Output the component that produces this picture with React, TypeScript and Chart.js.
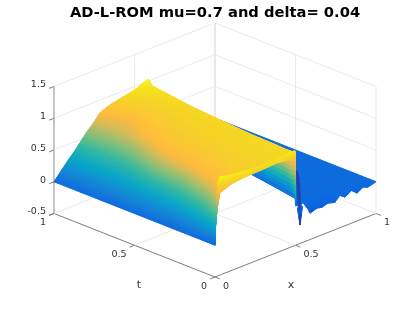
import React, { useEffect, useRef } from "react";
import { Chart, registerables } from "chart.js";

Chart.register(...registerables);

const titleText = "AD-L-ROM mu=0.7 and delta= 0.04";
const xTicks = [0, 0.5, 1];
const tTicks = [0, 0.5, 1];
const zTicks = [-0.5, 0, 0.5, 1, 1.5];

// main sheet: one row of nodes per time value
const mainT = [1, 0.97, 0.85, 0.7, 0.5, 0.3, 0.15, 0.08, 0.03, 0.015, 0.004, 0];
const mainX = [
  [0, 0.07, 0.14, 0.2, 0.245, 0.286, 0.35, 0.5, 0.584, 0.72],
  [0, 0.07, 0.14, 0.2, 0.245, 0.286, 0.35, 0.5, 0.58, 0.72],
  [0, 0.06, 0.12, 0.2, 0.25, 0.34, 0.4, 0.47, 0.571, 0.71],
  [0, 0.05, 0.1, 0.16, 0.21, 0.26, 0.36, 0.45, 0.558, 0.7],
  [0, 0.04, 0.08, 0.125, 0.155, 0.19, 0.3, 0.42, 0.54, 0.678],
  [0, 0.03, 0.06, 0.1, 0.13, 0.16, 0.28, 0.4, 0.525, 0.65],
  [0, 0.02, 0.05, 0.08, 0.1, 0.125, 0.25, 0.38, 0.52, 0.625],
  [0, 0.015, 0.03, 0.05, 0.07, 0.1, 0.2, 0.35, 0.515, 0.58],
  [0, 0.012, 0.03, 0.05, 0.07, 0.12, 0.25, 0.38, 0.512, 0.53],
  [0, 0.006, 0.026, 0.034, 0.046, 0.08, 0.23, 0.37, 0.51, 0.515],
  [0, 0.003, 0.016, 0.03, 0.093, 0.174, 0.26, 0.385, 0.503, 0.504],
  [0, 0.002, 0.012, 0.03, 0.093, 0.174, 0.26, 0.385, 0.5, 0.5],
];
const mainZ = [
  [0, 0.2, 0.39, 0.57, 0.68, 0.8, 0.865, 0.945, 1.03, 0],
  [0, 0.2, 0.39, 0.57, 0.68, 0.8, 0.865, 0.94, 0.96, 0],
  [0, 0.16, 0.33, 0.55, 0.68, 0.8, 0.86, 0.9, 0.94, 0],
  [0, 0.14, 0.29, 0.46, 0.62, 0.8, 0.86, 0.9, 0.92, 0],
  [0, 0.14, 0.3, 0.5, 0.64, 0.8, 0.87, 0.9, 0.92, 0],
  [0, 0.12, 0.28, 0.46, 0.62, 0.8, 0.87, 0.91, 0.92, 0],
  [0, 0.15, 0.36, 0.55, 0.68, 0.8, 0.88, 0.91, 0.92, 0],
  [0, 0.2, 0.36, 0.5, 0.66, 0.8, 0.88, 0.91, 0.92, 0.07],
  [0, 0.2, 0.5, 0.75, 0.88, 0.88, 0.89, 0.91, 0.93, 0.17],
  [0, 0.2, 0.56, 0.93, 1.015, 0.98, 0.94, 0.94, 0.96, 0.2],
  [0, 0.25, 0.6, 0.9, 0.97, 0.97, 0.95, 0.95, 0.95, 0.24],
  [0, 0.24, 0.54, 0.79, 0.856, 0.886, 0.894, 0.91, 0.874, 0.24],
];

// flat part ahead of the front
const planeT = [1, 0.458, 0.12, 0.06];
const planeX = [
  [0.72, 1],
  [0.675, 1],
  [0.618, 1],
  [0.56, 1],
];
const planeZ = [
  [0, 0],
  [0, 0],
  [0, 0],
  [0, 0],
];

// ripples along the first time step
const rippleT = [0.06, 0.02, 0];
const rippleX = [
  [0.607, 0.634, 0.665, 0.7, 0.745, 0.776, 0.807, 0.85, 0.882, 0.919, 0.95, 1],
  [0.6, 0.634, 0.665, 0.7, 0.745, 0.776, 0.807, 0.85, 0.882, 0.919, 0.95, 1],
  [0.59, 0.634, 0.665, 0.7, 0.745, 0.776, 0.807, 0.85, 0.882, 0.919, 0.95, 1],
];
const rippleZ = [
  [0, 0, 0, 0, 0, 0, 0, 0, 0, 0, 0, 0],
  [-0.06, -0.03, -0.04, -0.02, -0.03, 0, -0.02, 0, -0.03, 0, -0.015, 0],
  [-0.087, -0.05, -0.066, -0.04, -0.068, 0.01, -0.05, 0.016, -0.063, -0.006, -0.036, 0],
];

// undershoot streak that leaves the jump
const streakT = [0.41, 0.3, 0.15, 0.05, 0];
const streakX = [
  [0.92, 0.92, 0.92],
  [0.808, 0.816, 0.824],
  [0.664, 0.672, 0.68],
  [0.566, 0.576, 0.586],
  [0.512, 0.528, 0.544],
];
const streakZ = [
  [-0.16, -0.16, -0.16],
  [-0.08, -0.2, -0.08],
  [-0.08, -0.2, -0.08],
  [-0.02, -0.2, -0.02],
  [0.06, -0.21, 0.06],
];

const colorStops = [0, 0.125, 0.25, 0.375, 0.5, 0.625, 0.72, 0.81, 0.9, 1];
const colorRgb = [
  [53, 42, 135], [10, 98, 226], [20, 129, 214], [6, 164, 202], [46, 183, 164],
  [135, 191, 119], [209, 187, 89], [255, 186, 61], [246, 212, 38], [249, 251, 14],
];
const colorLow = -0.2;
const colorHigh = 1.03;

const project = (x: number, t: number, z: number) => ({ x: x - t, y: x + t + z + 0.5 });

function colorOf(z: number) {
  const c = Math.max(0, Math.min(0.9999, (z - colorLow) / (colorHigh - colorLow)));
  let i = 0;
  while (i < colorStops.length - 2 && c > colorStops[i + 1]) i++;
  const f = (c - colorStops[i]) / (colorStops[i + 1] - colorStops[i]);
  const a = colorRgb[i];
  const b = colorRgb[i + 1];
  return `rgb(${a.map((v, k) => Math.round(v + (b[k] - v) * f)).join(",")})`;
}

function drawSheet(chart: any, ts: number[], xs: number[][], zs: number[][], nu: number, nv: number) {
  const { ctx, scales } = chart;
  const px = (x: number, t: number, z: number) => {
    const p = project(x, t, z);
    return [scales.x.getPixelForValue(p.x), scales.y.getPixelForValue(p.y)];
  };
  for (let r = 0; r < ts.length - 1; r++) {
    for (let c = xs[0].length - 2; c >= 0; c--) {
      for (let a = 0; a < nv; a++) {
        for (let b = nu - 1; b >= 0; b--) {
          const corner = (ra: number, cb: number) => {
            const tt = ts[r] + (ts[r + 1] - ts[r]) * ra;
            const x0 = xs[r][c] + (xs[r][c + 1] - xs[r][c]) * cb;
            const x1 = xs[r + 1][c] + (xs[r + 1][c + 1] - xs[r + 1][c]) * cb;
            const z0 = zs[r][c] + (zs[r][c + 1] - zs[r][c]) * cb;
            const z1 = zs[r + 1][c] + (zs[r + 1][c + 1] - zs[r + 1][c]) * cb;
            return { t: tt, x: x0 + (x1 - x0) * ra, z: z0 + (z1 - z0) * ra };
          };
          const q = [
            corner(a / nv, b / nu),
            corner(a / nv, (b + 1) / nu),
            corner((a + 1) / nv, (b + 1) / nu),
            corner((a + 1) / nv, b / nu),
          ];
          const col = colorOf((q[0].z + q[1].z + q[2].z + q[3].z) / 4);
          ctx.fillStyle = col;
          ctx.strokeStyle = col;
          ctx.lineWidth = 1;
          ctx.beginPath();
          q.forEach((n, i) => {
            const [X, Y] = px(n.x, n.t, n.z);
            if (i === 0) ctx.moveTo(X, Y);
            else ctx.lineTo(X, Y);
          });
          ctx.closePath();
          ctx.fill();
          ctx.stroke();
        }
      }
    }
  }
}

const surfacePlugin = {
  id: "surface",
  afterDatasetsDraw(chart: any) {
    const { ctx } = chart;
    ctx.save();
    ctx.lineJoin = "round";
    drawSheet(chart, planeT, planeX, planeZ, 1, 1);
    drawSheet(chart, streakT, streakX, streakZ, 2, 2);
    drawSheet(chart, rippleT, rippleX, rippleZ, 2, 2);
    drawSheet(chart, mainT, mainX, mainZ, 10, 8);
    ctx.restore();
  },
};

const tickTextPlugin = {
  id: "tickText",
  afterDraw(chart: any) {
    const { ctx, scales } = chart;
    const at = (x: number, t: number, z: number) => {
      const p = project(x, t, z);
      return [scales.x.getPixelForValue(p.x), scales.y.getPixelForValue(p.y)];
    };
    ctx.save();
    ctx.font = '9.5px "DejaVu Sans"';
    ctx.fillStyle = "#333333";
    ctx.textBaseline = "middle";
    ctx.textAlign = "right";
    zTicks.forEach((z) => {
      const [X, Y] = at(0, 1, z);
      ctx.fillText(String(z), X - 8, Y - 1.5);
    });
    tTicks.forEach((t) => {
      const [X, Y] = at(0, t, -0.5);
      ctx.fillText(String(t), X - 8, Y + 9.5);
    });
    ctx.textAlign = "left";
    xTicks.forEach((x) => {
      const [X, Y] = at(x, 0, -0.5);
      ctx.fillText(String(x), X + 8, Y + 9.5);
    });
    ctx.font = '11px "DejaVu Sans"';
    ctx.textAlign = "center";
    const [tx, ty] = at(0, 0.5, -0.5);
    ctx.fillText("t", tx + 4.5, ty + 39.5);
    const [xx, xy] = at(0.5, 0, -0.5);
    ctx.fillText("x", xx - 4.5, xy + 39.5);
    ctx.restore();
  },
};

const seg = (a: number[], b: number[], color: string, width = 0.8) => ({
  data: [project(a[0], a[1], a[2]), project(b[0], b[1], b[2])],
  showLine: true,
  pointRadius: 0,
  borderColor: color,
  borderWidth: width,
  fill: false,
  tension: 0,
});

function buildLines() {
  const grid = "#e4e4e4";
  const axis = "#5c5c5c";
  const out: any[] = [];
  const zBottom = zTicks[0];
  const zTop = zTicks[zTicks.length - 1];
  zTicks.forEach((z) => {
    out.push(seg([0, 1, z], [1, 1, z], grid));
    out.push(seg([1, 1, z], [1, 0, z], grid));
  });
  [0.5, 1].forEach((x) => out.push(seg([x, 1, zBottom], [x, 1, zTop], x === 1 ? "#c8c8c8" : grid)));
  [0.5, 0].forEach((t) => out.push(seg([1, t, zBottom], [1, t, zTop], grid)));
  out.push(seg([0.5, 0, zBottom], [0.5, 1, zBottom], grid));
  out.push(seg([0, 0.5, zBottom], [1, 0.5, zBottom], grid));
  out.push(seg([0, 1, zBottom], [0, 1, zTop], "#8a8a8a", 1));
  out.push(seg([0, 0, zBottom], [0, 1, zBottom], axis));
  out.push(seg([0, 0, zBottom], [1, 0, zBottom], axis));
  zTicks.forEach((z) => out.push(seg([0, 1, z], [-0.03, 1, z], axis)));
  tTicks.forEach((t) => out.push(seg([0, t, zBottom], [-0.03, t, zBottom], axis)));
  xTicks.forEach((x) => out.push(seg([x, 0, zBottom], [x, -0.03, zBottom], axis)));
  return out;
}

export default function App() {
  const ref = useRef<HTMLCanvasElement>(null);
  useEffect(() => {
    document.body.style.margin = "0";
    const chart = new Chart(ref.current as HTMLCanvasElement, {
      type: "scatter",
      data: { datasets: buildLines() },
      plugins: [surfacePlugin, tickTextPlugin],
      options: {
        responsive: false,
        animation: false,
        layout: { padding: { left: 15, right: 0, top: 0, bottom: 0 } },
        plugins: {
          legend: { display: false },
          tooltip: { enabled: false },
          title: {
            display: true,
            text: titleText,
            fullSize: false,
            color: "#000",
            font: { family: '"DejaVu Sans"', size: 14.7, weight: "bold" },
            padding: { top: 4, bottom: 0 },
          },
        },
        scales: {
          x: { type: "linear", display: false, min: -1.242, max: 1.242 },
          y: { type: "linear", display: false, min: -0.551, max: 4.021 },
        },
      },
    } as any);
    return () => chart.destroy();
  }, []);
  return (
    <canvas
      ref={ref}
      width={415}
      height={312}
      style={{ display: "block", position: "absolute", left: 0, top: 0, width: 415, height: 312 }}
    />
  );
}
